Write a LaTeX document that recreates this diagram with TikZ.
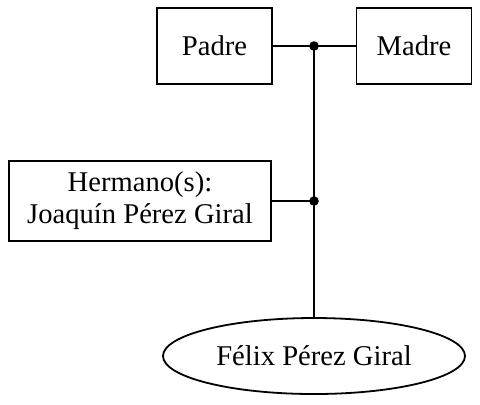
\documentclass[tikz,border=0pt]{standalone}
\usepackage{fontspec}
\setmainfont{Liberation Serif}
\usetikzlibrary{shapes.geometric}
\begin{document}
\begin{tikzpicture}[x=0.5pt,y=-0.5pt,
  every node/.style={font=\fontsize{14.3}{16}\selectfont},
  person/.style={draw,line width=0.9pt,inner sep=0pt,align=center},
  child/.style={draw,ellipse,line width=0.9pt,inner sep=0pt,minimum width=151pt,minimum height=38pt},
  link/.style={line width=0.9pt},
  dotmark/.style={circle,fill=black,inner sep=0pt,minimum size=4.8pt}]
\useasboundingbox (0,0) rectangle (480,404);
\node[person,minimum width=57.5pt,minimum height=38pt] (padre) at (214.5,46) {Padre};
\node[person,minimum width=57.5pt,minimum height=38pt] (madre) at (414,46) {Madre};
\node[person,minimum width=131pt,minimum height=40pt] (hermano) at (140,201) {Hermano(s):\\Joaquín Pérez Giral};
\node[child] (felix) at (314,356) {Félix Pérez Giral};
\node[dotmark] (j1) at (314,46) {};
\node[dotmark] (j2) at (314,201) {};
\draw[link] (padre.east) -- (j1.center) -- (madre.west);
\draw[link] (j1.center) -- (j2.center) -- (felix.north);
\draw[link] (hermano.east) -- (j2.center);
\end{tikzpicture}
\end{document}
